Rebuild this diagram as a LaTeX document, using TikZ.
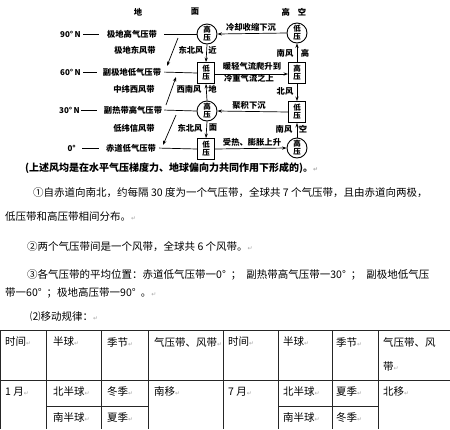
\documentclass[tikz,border=0pt]{standalone}
\usepackage{fontspec}
\setmainfont{Noto Sans CJK SC}
\newfontfamily\symfont{DejaVu Sans}
\usetikzlibrary{arrows.meta}
\newcommand{\rt}{{\symfont\fontsize{6}{6}\selectfont\color{gray!70}↵}}
\begin{document}
\begin{tikzpicture}[x=1pt,y=-1pt,
  dg/.style={font=\fontsize{8.3}{9}\selectfont\bfseries, inner sep=0},
  lat/.style={font=\fontsize{8}{9}\selectfont\bfseries, inner sep=0, anchor=east},
  hp/.style={circle, draw, line width=0.9pt, minimum size=20pt, inner sep=0, fill=white,
     align=center, font=\fontsize{7.5}{8.2}\selectfont\bfseries},
  lpbox/.style={rectangle, draw, line width=0.9pt, minimum width=17pt, minimum height=21pt,
     inner sep=0, fill=white, align=center, font=\fontsize{7.5}{8.2}\selectfont\bfseries},
  arr/.style={-{Stealth[length=4.5pt,width=3.2pt]}, line width=0.7pt},
  ln/.style={line width=0.7pt},
  body/.style={anchor=west, inner sep=0, font=\fontsize{10.5}{12}\selectfont},
  tb/.style={anchor=west, inner sep=0, font=\fontsize{10.5}{12}\selectfont},
  tl/.style={line width=0.8pt, black!85}]
\useasboundingbox (0,0) rectangle (450,429);

% headings
\node[dg] (hdi) at (138,12) {地};
\node[dg] (hmian) at (195,12) {面};
\node[dg] (hgk) at (294,12) {高\hspace{8pt}空};

% latitude labels
\node[lat] (l90) at (81,34) {90°\,N};
\node[lat] (l60) at (81,72) {60°\,N};
\node[lat] (l30) at (80,110) {30°\,N};
\node[lat] (l0) at (76,148) {0°};

% pressure belts
\node[dg] (b90) at (132,34) {极地高气压带};
\node[dg] (b60) at (132,72) {副极地低气压带};
\node[dg] (b30) at (133,110) {副热带高气压带};
\node[dg] (b0) at (131,148) {赤道低气压带};

% wind belts
\node[dg] (w1) at (135,50) {极地东风带};
\node[dg] (w2) at (134,89) {中纬西风带};
\node[dg] (w3) at (134,128) {低纬信风带};

% column near ground
\node[hp] (c90) at (207,34) {高\\压};
\node[lpbox] (g60) at (206,73) {低\\压};
\node[hp] (c30) at (207,111) {高\\压};
\node[lpbox] (g0) at (206,149) {低\\压};

% column high altitude
\node[hp] (r90) at (297,33) {低\\压};
\node[lpbox] (rb60) at (297,73) {高\\压};
\node[lpbox] (rb30) at (297,112) {低\\压};
\node[hp] (r0) at (297,148) {高\\压};

% dashes after latitudes
\draw[ln, shorten <=2pt, shorten >=8pt] (l90.east) -- (b90.west);
\draw[ln, shorten <=2pt, shorten >=6pt] (l60.east) -- (b60.west);
\draw[ln, shorten <=1pt, shorten >=7pt] (l30.east) -- (b30.west);
\draw[ln, shorten <=6pt, shorten >=7pt] (l0.east) -- (b0.west);

% lines belts -> column
\draw[ln, shorten <=7pt] (b90.east) -- (c90.west);
\draw[ln, shorten <=3pt] (b60.east) -- (g60.west);
\draw[ln, shorten <=2pt] (b30.east) -- (c30.west);
\draw[ln, shorten <=3pt] (b0.east) -- (g0.west);

% diagonal arrows
\coordinate (d1s) at (178,38); \coordinate (d1e) at (167,66);
\coordinate (d2s) at (166,105); \coordinate (d2e) at (176,77);
\coordinate (d3s) at (176,115); \coordinate (d3e) at (163,145);
\draw[arr] (d1s) -- (d1e);
\draw[arr] (d2s) -- (d2e);
\draw[arr] (d3s) -- (d3e);

% vertical arrows near ground
\draw[arr] (c90.south) -- (g60.north);
\draw[arr] (c30.north) -- (g60.south);
\draw[arr] (c30.south) -- (g0.north);
\node[dg] (t1) at (191,50) {东北风};
\node[dg] (t2) at (212.5,50) {近};
\node[dg] (t3) at (189,89) {西南风};
\node[dg] (t4) at (212.5,89) {地};
\node[dg] (t5) at (190,128) {东北风};
\node[dg] (t6) at (213,128) {面};

% vertical arrows aloft
\draw[arr] (rb60.north) -- (r90.south);
\draw[arr] (rb60.south) -- (rb30.north);
\draw[arr] (r0.north) -- (rb30.south);
\node[dg] (t7) at (285,53) {南风};
\node[dg] (t8) at (305,53) {高};
\node[dg] (t9) at (285,91) {北风};
\node[dg] (t10) at (284,129) {南风};
\node[dg] (t11) at (303,129) {空};

% horizontal arrows
\draw[arr] (r90.west) -- (c90.east);
\draw[arr] ([yshift=-1pt]g60.east) -- ([yshift=-1pt]rb60.west);
\draw[arr] (rb30.west) -- (c30.east);
\draw[arr] (g0.east) -- (r0.west);
\node[dg] (h1) at (251,27) {冷却收缩下沉};
\node[dg] (h2) at (252,66.5) {暖轻气流爬升到};
\node[dg] (h3) at (249,78) {冷重气流之上};
\node[dg] (h4) at (249,105) {聚积下沉};
\node[dg] (h5) at (252,142) {受热、膨胀上升};

% caption and paragraphs
\node[body, font=\fontsize{10}{12}\selectfont\bfseries] (cap) at (25,168) {(上述风均是在水平气压梯度力、地球偏向力共同作用下形成的)。\rt};
\node[body] (p1a) at (33,193) {①自赤道向南北，约每隔 30 度为一个气压带，全球共 7 个气压带，且由赤道向两极，};
\node[body] (p1b) at (5,217) {低压带和高压带相间分布。\rt};
\node[body] (p2) at (27,247) {②两个气压带间是一个风带，全球共 6 个风带。\rt};
\node[body] (p3a) at (27,275) {③各气压带的平均位置：赤道低气压带一0°\hspace{5pt}；\hspace{5pt}副热带高气压带一30°\hspace{5pt}；\hspace{5pt}副极地低气压};
\node[body] (p3b) at (5,293) {带一60°\hspace{5pt}；极地高压带一90°\hspace{5pt}。\rt};
\node[body] (p4) at (30,317) {⑵移动规律：\rt};

% table lines
\draw[tl] (0,330) -- (450,330);
\draw[tl] (0,380) -- (450,380);
\draw[tl] (46,406) -- (148,406);
\draw[tl] (278,406) -- (378,406);
\foreach \xx in {0.5,46,101,148,223,278,332,378} {\draw[tl] (\xx,330) -- (\xx,429);}

% table texts
\node[tb] (a1) at (5,342) {时间\rt};
\node[tb] (a2) at (53,342) {半球\rt};
\node[tb] (a3) at (107,342) {季节\rt};
\node[tb] (a4) at (154,342) {气压带、风带\rt};
\node[tb] (a5) at (228,342) {时间\rt};
\node[tb] (a6) at (283,342) {半球\rt};
\node[tb] (a7) at (336,342) {季节\rt};
\node[tb] (a8) at (383,342) {气压带、风};
\node[tb] (a9) at (383,367) {带\rt};
\node[tb] (e1) at (5,392) {1 月\rt};
\node[tb] (e2) at (53,392) {北半球\rt};
\node[tb] (e3) at (107,392) {冬季\rt};
\node[tb] (e4) at (154,392) {南移\rt};
\node[tb] (e5) at (228,392) {7 月\rt};
\node[tb] (e6) at (283,392) {北半球\rt};
\node[tb] (e7) at (336,392) {夏季\rt};
\node[tb] (e8) at (383,392) {北移\rt};
\node[tb] (f2) at (53,418) {南半球\rt};
\node[tb] (f3) at (107,418) {夏季\rt};
\node[tb] (f6) at (283,418) {南半球\rt};
\node[tb] (f7) at (336,418) {冬季\rt};
\end{tikzpicture}
\end{document}
